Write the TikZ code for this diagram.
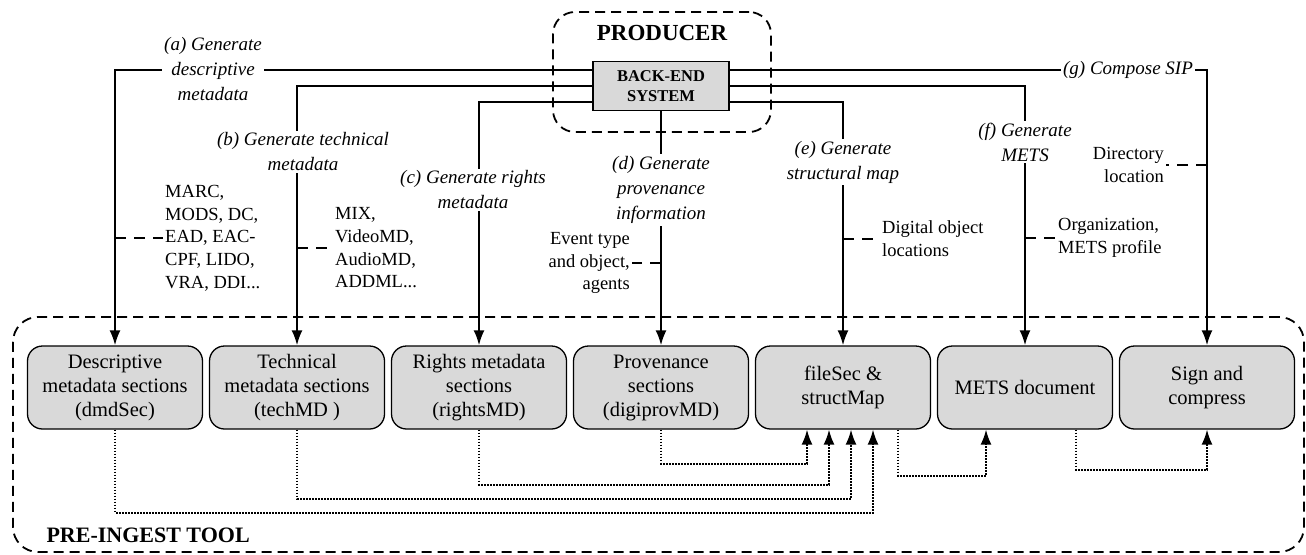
\documentclass[tikz,border=0pt]{standalone}
\usepackage{fontspec}
\setmainfont{Liberation Serif}
\usetikzlibrary{arrows.meta}
\definecolor{boxgray}{RGB}{217,217,217}

\begin{document}
\begin{tikzpicture}[x=1pt,y=-1pt,>={Latex[length=15pt,width=11pt]}]
\useasboundingbox (0,0) rectangle (1306,554);
\tikzstyle{grp}=[draw,line width=1.8pt,dash pattern=on 10pt off 6pt,rounded corners=22pt];
\tikzstyle{sect}=[draw,line width=1.3pt,fill=boxgray,rounded corners=15pt,minimum width=175pt,minimum height=83pt,align=center,font=\fontsize{20.5}{24}\selectfont];
\tikzstyle{act}=[fill=white,inner sep=2pt,align=center,font=\fontsize{19}{25}\selectfont\itshape];
\tikzstyle{note}=[inner sep=2pt,font=\fontsize{18.5}{22.7}\selectfont];
\tikzstyle{flow}=[line width=2pt];
\tikzstyle{notelink}=[line width=2pt,dash pattern=on 11pt off 8pt];
\tikzstyle{dotlink}=[line width=1.7pt,dash pattern=on 1.7pt off 1.3pt,->];

% containers
\node[grp,minimum width=218pt,minimum height=120pt] (producer) at (662,72) {};
\node[font=\fontsize{23}{26}\selectfont\bfseries] (ptitle) at (662,33) {PRODUCER};
\node[grp,rounded corners=25pt,minimum width=1291pt,minimum height=235pt] (tool) at (658.5,434.5) {};
\node[anchor=base west,font=\fontsize{22}{26}\selectfont\bfseries] (ttitle) at (43,542) {PRE-INGEST TOOL};

% back-end system
\node[draw,line width=1.3pt,fill=boxgray,minimum width=136pt,minimum height=49pt,align=center,font=\fontsize{16.5}{20}\selectfont\bfseries] (be) at (661,86) {BACK-END\\SYSTEM};

% sections
\node[sect] (dmd) at (115,387.5) {Descriptive\\metadata sections\\(dmdSec)};
\node[sect] (tech) at (297,387.5) {Technical\\metadata sections\\(techMD )};
\node[sect] (rights) at (479,387.5) {Rights metadata\\sections\\(rightsMD)};
\node[sect] (prov) at (661,387.5) {Provenance\\sections\\(digiprovMD)};
\node[sect] (fs) at (843,387.5) {fileSec \&\\structMap};
\node[sect] (mets) at (1025,387.5) {METS document};
\node[sect] (sign) at (1207,387.5) {Sign and\\compress};

% generation steps
\draw[flow,->] ([yshift=16pt]be.west) -| (dmd);
\draw[flow,->] (be.west) -| (tech);
\draw[flow,->] ([yshift=-16pt]be.west) -| (rights);
\draw[flow,->] (be) -- (prov);
\draw[flow,->] ([yshift=-16pt]be.east) -| (fs);
\draw[flow,->] (be.east) -| (mets);
\draw[flow,->] ([yshift=16pt]be.east) -| (sign);

\node[act] (la) at (213,69) {(a) Generate\\descriptive\\metadata};
\node[act] (lb) at (303,152) {(b) Generate technical\\metadata};
\node[act] (lc) at (473,190) {(c) Generate rights\\metadata};
\node[act] (ld) at (661,190) {(d) Generate\\provenance\\information};
\node[act] (le) at (843,162) {(e) Generate\\structural map};
\node[act] (lf) at (1025,142) {(f) Generate\\METS};
\node[act] (lg) at (1128,70) {(g) Compose SIP};

% inputs
\node[note,anchor=west,align=left] (na) at (163,238) {MARC,\\MODS, DC,\\EAD, EAC-\\CPF, LIDO,\\VRA, DDI...};
\node[note,anchor=west,align=left] (nb) at (333,248) {MIX,\\VideoMD,\\AudioMD,\\ADDML...};
\node[note,anchor=east,align=right] (nd) at (632,263) {Event type\\and object,\\agents};
\node[note,anchor=west,align=left] (ne) at (880,239) {Digital object\\locations};
\node[note,anchor=west,align=left] (nf) at (1056,238) {Organization,\\METS profile};
\node[note,anchor=east,align=right] (ng) at (1166,165) {Directory\\location};
\draw[notelink] (na.west -| dmd) -- (na.west);
\draw[notelink] (nb.west -| tech) -- (nb.west);
\draw[notelink] (nd.east -| prov) -- (nd.east);
\draw[notelink] (ne.west -| fs) -- (ne.west);
\draw[notelink] (nf.west -| mets) -- (nf.west);
\draw[notelink] (ng.east -| sign) -- (ng.east);

% assembly
\draw[dotlink] (prov.south) -- ++(0,34) -| ([xshift=-36pt]fs.south);
\draw[dotlink] (rights.south) -- ++(0,55) -| ([xshift=-14pt]fs.south);
\draw[dotlink] (tech.south) -- ++(0,69) -| ([xshift=8pt]fs.south);
\draw[dotlink] (dmd.south) -- ++(0,83) -| ([xshift=30pt]fs.south);
\draw[dotlink] ([xshift=55pt]fs.south) -- ++(0,46) -| ([xshift=-39pt]mets.south);
\draw[dotlink] ([xshift=51pt]mets.south) -- ++(0,40) -| (sign.south);
\end{tikzpicture}
\end{document}
